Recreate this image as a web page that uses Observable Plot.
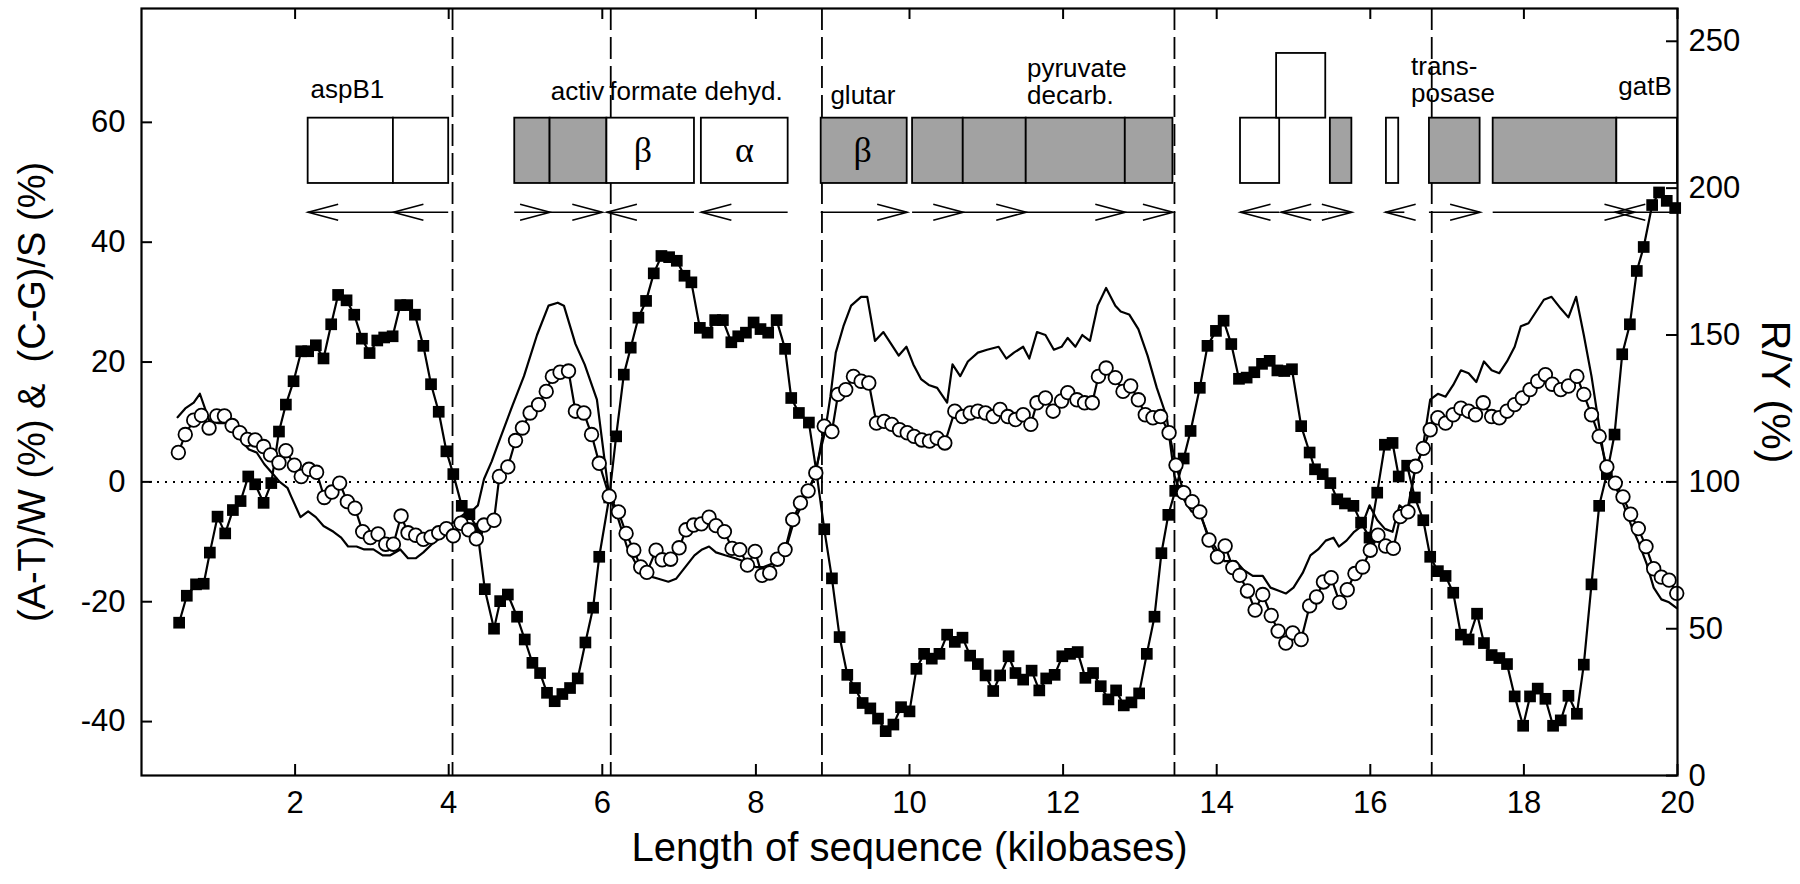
<!DOCTYPE html>
<html>
<head>
<meta charset="utf-8">
<script src="https://cdn.jsdelivr.net/npm/d3@7"></script>
<script src="https://cdn.jsdelivr.net/npm/@observablehq/plot@0.6"></script>
<style>
  html, body { margin: 0; padding: 0; background: #ffffff; }
  #chart svg { display: block; }
</style>
</head>
<body>
<div id="chart"></div>
<script>
// ---------------- DATA ----------------
// x in kilobases, y in % (left axis) for the two skew series
const atSkew = [ // filled squares
  [0.49,-23.5],[0.59,-19.0],[0.71,-17.1],[0.81,-17.0],[0.89,-11.8],[0.99,-5.8],[1.09,-8.6],[1.19,-4.7],[1.29,-3.2],[1.39,0.9],
  [1.48,-0.4],[1.59,-3.5],[1.69,-0.2],[1.79,8.4],[1.88,12.9],[1.98,16.8],[2.08,21.8],[2.17,21.8],[2.27,22.8],[2.37,20.6],
  [2.47,26.3],[2.56,31.2],[2.67,30.3],[2.77,27.9],[2.87,23.9],[2.97,21.5],[3.07,23.6],[3.16,24.1],[3.27,24.3],[3.37,29.5],
  [3.46,29.5],[3.56,27.9],[3.67,22.7],[3.77,16.3],[3.87,11.7],[3.97,5.1],[4.06,1.3],[4.17,-4.0],[4.27,-5.4],[4.37,-7.8],
  [4.47,-17.9],[4.59,-24.5],[4.67,-19.9],[4.77,-18.8],[4.89,-22.5],[4.99,-26.3],[5.09,-30.2],[5.19,-31.9],[5.28,-35.2],[5.38,-36.6],
  [5.48,-35.4],[5.58,-34.4],[5.68,-32.8],[5.78,-26.8],[5.88,-21.0],[5.96,-12.5],[6.09,-2.6],[6.18,7.6],[6.28,17.9],[6.37,22.4],
  [6.47,27.4],[6.57,30.2],[6.67,34.8],[6.77,37.7],[6.87,37.5],[6.97,36.9],[7.07,34.4],[7.16,33.3],[7.27,25.7],[7.37,24.9],
  [7.47,27.0],[7.57,27.0],[7.68,23.3],[7.77,24.3],[7.87,24.9],[7.97,26.6],[8.06,25.5],[8.16,24.9],[8.27,27.0],[8.38,22.2],
  [8.46,14.0],[8.56,11.5],[8.69,9.9],[8.79,1.5],[8.89,-7.9],[8.99,-16.1],[9.09,-25.9],[9.19,-32.2],[9.29,-34.4],[9.39,-36.9],
  [9.49,-37.8],[9.59,-39.5],[9.69,-41.6],[9.79,-40.5],[9.89,-37.6],[10.00,-38.3],[10.09,-31.2],[10.19,-28.7],[10.29,-29.5],[10.39,-28.7],
  [10.49,-25.5],[10.59,-26.7],[10.69,-26.0],[10.79,-29.0],[10.89,-30.4],[10.99,-32.3],[11.09,-34.9],[11.18,-32.3],[11.29,-29.1],[11.38,-31.9],
  [11.48,-33.0],[11.59,-31.5],[11.69,-34.8],[11.78,-32.8],[11.89,-32.2],[11.99,-29.1],[12.09,-28.7],[12.19,-28.4],[12.29,-32.7],[12.39,-31.9],
  [12.49,-34.1],[12.59,-36.3],[12.69,-34.8],[12.79,-37.3],[12.89,-36.8],[12.99,-35.3],[13.09,-28.7],[13.19,-22.5],[13.28,-11.9],[13.37,-5.5],
  [13.46,-1.5],[13.57,3.9],[13.66,8.5],[13.78,15.7],[13.88,22.7],[13.99,25.2],[14.09,26.9],[14.19,23.0],[14.29,17.2],[14.39,17.4],
  [14.49,18.3],[14.59,19.7],[14.69,20.2],[14.79,18.6],[14.88,18.5],[14.98,18.8],[15.10,9.3],[15.21,4.9],[15.28,2.1],[15.38,1.3],
  [15.48,-0.2],[15.57,-2.9],[15.67,-3.6],[15.78,-4.0],[15.88,-6.8],[15.99,-9.3],[16.09,-1.8],[16.19,6.2],[16.29,6.5],[16.37,0.9],
  [16.48,2.7],[16.58,-2.6],[16.69,-6.4],[16.78,-12.5],[16.88,-14.9],[16.98,-15.7],[17.08,-18.5],[17.18,-25.5],[17.28,-26.3],[17.39,-22.0],
  [17.48,-26.9],[17.58,-28.9],[17.68,-29.4],[17.78,-30.4],[17.88,-35.8],[17.99,-40.7],[18.08,-35.8],[18.18,-34.5],[18.28,-36.2],[18.38,-40.7],
  [18.48,-39.8],[18.58,-35.7],[18.69,-38.7],[18.78,-30.5],[18.88,-17.1],[18.98,-4.0],[19.08,1.3],[19.18,7.9],[19.28,21.3],[19.38,26.3],
  [19.47,35.2],[19.56,39.2],[19.67,46.2],[19.76,48.3],[19.86,46.9],[19.97,45.7]
];
const cgSkew = [ // open circles
  [0.48,4.9],[0.57,7.9],[0.68,10.3],[0.78,11.1],[0.88,9.0],[0.98,11.0],[1.08,11.0],[1.18,9.4],[1.28,8.2],[1.38,7.1],
  [1.48,7.0],[1.59,5.9],[1.68,4.5],[1.79,3.2],[1.88,5.2],[1.99,2.8],[2.08,0.9],[2.18,2.1],[2.28,1.6],[2.38,-2.6],
  [2.48,-1.7],[2.58,-0.2],[2.68,-3.3],[2.78,-4.4],[2.88,-8.3],[2.98,-9.3],[3.08,-8.7],[3.18,-10.4],[3.28,-10.4],[3.38,-5.7],
  [3.47,-8.5],[3.57,-8.9],[3.67,-9.6],[3.77,-9.2],[3.87,-8.5],[3.97,-7.8],[4.06,-9.0],[4.16,-6.9],[4.26,-8.0],[4.36,-9.5],
  [4.46,-7.2],[4.59,-6.4],[4.66,0.9],[4.77,2.5],[4.87,6.9],[4.96,9.0],[5.06,11.5],[5.17,12.9],[5.27,15.1],[5.35,17.6],
  [5.45,18.3],[5.56,18.5],[5.65,11.8],[5.76,11.5],[5.86,7.9],[5.96,3.1],[6.09,-2.4],[6.21,-5.0],[6.31,-8.6],[6.41,-11.4],
  [6.50,-14.2],[6.58,-15.1],[6.70,-11.4],[6.78,-13.0],[6.89,-12.9],[7.00,-11.0],[7.09,-8.0],[7.19,-7.2],[7.29,-7.0],[7.39,-5.9],
  [7.48,-7.3],[7.59,-8.3],[7.69,-11.1],[7.79,-11.3],[7.89,-13.9],[7.99,-11.6],[8.08,-15.6],[8.18,-15.2],[8.28,-12.9],[8.38,-11.3],
  [8.48,-6.3],[8.58,-3.5],[8.68,-1.5],[8.78,1.5],[8.89,9.3],[8.99,8.4],[9.07,14.6],[9.17,15.4],[9.27,17.6],[9.37,16.8],
  [9.47,16.5],[9.57,9.8],[9.67,10.1],[9.77,9.6],[9.87,8.7],[9.97,8.2],[10.06,7.6],[10.16,7.0],[10.26,6.8],[10.36,7.3],
  [10.46,6.5],[10.59,11.8],[10.69,10.9],[10.79,11.5],[10.89,11.8],[10.99,11.5],[11.09,10.9],[11.18,12.1],[11.28,10.9],[11.38,10.4],
  [11.48,11.2],[11.58,9.6],[11.66,13.2],[11.77,14.0],[11.87,11.8],[11.98,13.5],[12.06,14.9],[12.18,13.7],[12.28,13.2],[12.38,13.2],
  [12.46,17.6],[12.56,19.0],[12.68,17.4],[12.78,15.1],[12.88,16.0],[12.98,13.7],[13.07,11.2],[13.17,10.7],[13.27,10.9],[13.38,8.2],
  [13.47,2.8],[13.57,-1.8],[13.68,-3.3],[13.78,-5.0],[13.90,-9.7],[14.01,-12.5],[14.11,-10.7],[14.21,-14.3],[14.30,-15.6],[14.40,-18.2],
  [14.50,-21.4],[14.60,-18.8],[14.71,-22.3],[14.80,-24.9],[14.90,-26.9],[14.99,-25.2],[15.10,-26.3],[15.21,-20.7],[15.30,-19.2],[15.39,-16.7],
  [15.49,-16.0],[15.60,-20.1],[15.70,-18.0],[15.80,-15.3],[15.90,-14.2],[16.00,-11.4],[16.10,-8.9],[16.20,-10.7],[16.30,-11.1],[16.39,-5.8],
  [16.49,-5.0],[16.59,2.6],[16.69,5.6],[16.78,8.7],[16.88,10.7],[16.98,9.8],[17.08,11.2],[17.18,12.3],[17.28,11.8],[17.37,11.2],
  [17.47,13.2],[17.58,10.9],[17.68,10.7],[17.78,11.8],[17.88,12.9],[17.98,14.0],[18.08,15.4],[18.18,16.8],[18.28,17.9],[18.37,16.3],
  [18.48,15.4],[18.58,16.0],[18.69,17.6],[18.78,14.6],[18.88,11.2],[18.98,7.6],[19.08,2.5],[19.19,-0.2],[19.29,-2.5],[19.39,-5.4],
  [19.49,-7.8],[19.59,-10.8],[19.69,-14.5],[19.79,-15.9],[19.89,-16.4],[19.99,-18.6]
];
// R/Y (%) on the right axis, plain line
const ryRatio = [
  [0.47,122],[0.57,125],[0.68,127],[0.76,130],[0.88,121],[1.00,120],[1.10,120],[1.20,117],[1.30,114],[1.40,111],
  [1.50,110],[1.60,106],[1.70,103],[1.80,100],[1.90,98],[1.95,95],[2.07,88],[2.17,90],[2.27,88],[2.37,85],
  [2.50,83],[2.60,81],[2.69,78],[2.80,78],[2.90,77],[3.02,77],[3.14,75],[3.24,75],[3.37,77],[3.47,74],
  [3.57,74],[3.67,76],[3.79,79],[3.90,81],[4.00,85],[4.10,87],[4.20,89],[4.30,90],[4.38,92],[4.46,101],
  [4.56,107],[4.63,112],[4.83,126],[4.98,136],[5.15,150],[5.30,160],[5.42,161],[5.50,160],[5.65,147],[5.77,140],
  [5.93,128],[6.09,95],[6.20,88],[6.32,78],[6.48,70],[6.60,68],[6.73,67],[6.86,66],[6.96,67],[7.08,71],
  [7.20,75],[7.30,77],[7.39,78],[7.48,76],[7.60,75],[7.73,74],[7.84,73],[7.90,72],[8.00,71],[8.10,71],
  [8.20,72],[8.30,74],[8.40,78],[8.50,87],[8.62,93],[8.75,101],[8.90,117],[8.97,129],[9.04,144],[9.14,153],
  [9.24,160],[9.37,163],[9.45,163],[9.55,148],[9.66,151],[9.76,147],[9.86,143],[9.96,146],[10.05,140],[10.15,135],
  [10.25,133],[10.36,132],[10.49,127],[10.56,140],[10.66,136],[10.76,141],[10.89,144],[11.01,145],[11.16,146],[11.26,142],
  [11.36,144],[11.48,146],[11.56,142],[11.66,151],[11.77,150],[11.88,145],[11.98,146],[12.06,149],[12.16,146],[12.25,150],
  [12.35,148],[12.45,160],[12.56,166],[12.68,160],[12.75,158],[12.86,157],[12.98,152],[13.10,143],[13.22,132],[13.35,122],
  [13.45,102],[13.55,95],[13.67,90],[13.80,88],[13.90,81],[14.00,77],[14.10,73],[14.25,73],[14.35,70],[14.47,68],
  [14.60,68],[14.70,64],[14.80,63],[14.90,62],[15.00,64],[15.12,69],[15.22,75],[15.32,77],[15.42,80],[15.52,81],
  [15.59,78],[15.69,80],[15.79,83],[15.89,85],[15.99,92],[16.09,87],[16.19,84],[16.29,83],[16.38,92],[16.48,90],
  [16.58,104],[16.68,111],[16.78,128],[16.88,130],[16.98,129],[17.08,133],[17.18,138],[17.28,137],[17.38,134],[17.48,141],
  [17.58,138],[17.68,137],[17.78,141],[17.88,146],[17.96,153],[18.06,154],[18.16,158],[18.26,162],[18.36,163],[18.48,159],
  [18.58,156],[18.68,163],[18.78,150],[18.88,136],[18.98,119],[19.07,104],[19.20,98],[19.30,92],[19.40,85],[19.50,79],
  [19.60,72],[19.69,64],[19.79,60],[19.89,59],[19.99,57]
];

// dashed region boundaries (kb)
const boundaries = [4.05, 6.11, 8.86, 13.45, 16.80];

// gene boxes (kb)
const boxStart = [2.17, 3.28, 4.86, 5.32, 6.06, 7.29, 8.85, 10.04, 10.70, 11.52, 12.81, 14.31, 14.78, 15.48, 16.21, 16.77, 17.60, 19.21];
const boxEnd   = [3.28, 4.00, 5.32, 6.06, 7.20, 8.42, 9.97, 10.70, 11.52, 12.81, 13.43, 14.82, 15.42, 15.76, 16.37, 17.43, 19.21, 20.00];
const boxShade = ["open","open","shaded","shaded","open","open","shaded","shaded","shaded","shaded","shaded","open","open","shaded","open","shaded","shaded","open"];
const boxTier  = [0,0,0,0,0,0,0,0,0,0,0,0,1,0,0,0,0,0];

// gene direction arrows: from -> arrowhead tip (kb)
const geneFrom = [4.00, 3.28, 4.86, 5.32, 7.20, 8.42, 8.85, 10.04, 10.70, 11.52, 12.81, 14.82, 15.45, 15.45, 16.45, 16.77, 17.60, 20.00];
const geneTip  = [3.28, 2.17, 5.32, 6.00, 6.06, 7.29, 9.97, 10.70, 11.52, 12.81, 13.43, 14.31, 14.84, 15.76, 16.20, 17.43, 19.44, 19.19];

// gene names
const geneLabels = ["aspB1", "activ", "formate dehyd.", "glutar", "pyruvate\ndecarb.", "trans-\nposase", "gatB"];
const geneLabelX = [2.20, 5.33, 6.09, 8.97, 11.53, 16.53, 19.23];
const geneLabelY = [64.0, 63.7, 63.7, 63.0, 63.0, 63.4, 64.5];
const subunitLabels = ["β", "α", "β"];
const subunitX = [6.53, 7.85, 9.39];

// axes
const xTicks = [2, 4, 6, 8, 10, 12, 14, 16, 18, 20];
const leftTicks = [-40, -20, 0, 20, 40, 60];
const ryTicks = [0, 50, 100, 150, 200, 250];
const xTitle = "Length of sequence (kilobases)";
const yTitle = "(A-T)/W (%) &\u00a0 (C-G)/S (%)";
const ryTitle = "R/Y (%)";

// ---------------- LAYOUT ----------------
const W = 1800, H = 884;
const mL = 141, mR = 123, mT = 8, mB = 109;
const plotW = W - mL - mR, plotH = H - mT - mB;
const RY_PER_UNIT = 2.04;              // right axis: 100 % R/Y sits on left-axis 0
const toLeft = ry => (ry - 100) / RY_PER_UNIT;
const ROW = [[49.8, 60.7], [60.7, 71.5]];
const ARROW_ROW = 45;
const GRAY = "#a2a2a2";
const FONT = "'Liberation Sans', Arial, Helvetica, sans-serif";

const chevronRight = { draw(ctx) { ctx.moveTo(-30, -8); ctx.lineTo(0, 0); ctx.lineTo(-30, 8); } };
const chevronLeft  = { draw(ctx) { ctx.moveTo(30, -8); ctx.lineTo(0, 0); ctx.lineTo(30, 8); } };

const boxIdx = boxStart.map((_, i) => i);
const geneIdx = geneFrom.map((_, i) => i);
const labelIdx = geneLabels.map((_, i) => i);
const subIdx = subunitLabels.map((_, i) => i);

const chart = Plot.plot({
  width: W, height: H,
  marginLeft: mL, marginRight: mR, marginTop: mT, marginBottom: mB,
  style: { fontFamily: FONT, color: "black", background: "white", overflow: "visible" },
  x: { domain: [0, 20] },
  y: { domain: [-49, 79] },
  marks: [
    // reference lines
    Plot.ruleY([0], { stroke: "black", strokeWidth: 2, strokeDasharray: "2,6" }),
    Plot.ruleX(boundaries, { stroke: "black", strokeWidth: 1.8, strokeDasharray: "22,7" }),

    // gene boxes
    Plot.rect(boxIdx.filter(i => boxShade[i] === "shaded"), {
      x1: i => boxStart[i], x2: i => boxEnd[i],
      y1: i => ROW[boxTier[i]][0], y2: i => ROW[boxTier[i]][1],
      fill: GRAY, stroke: "black", strokeWidth: 1.8
    }),
    Plot.rect(boxIdx.filter(i => boxShade[i] === "open"), {
      x1: i => boxStart[i], x2: i => boxEnd[i],
      y1: i => ROW[boxTier[i]][0], y2: i => ROW[boxTier[i]][1],
      fill: "white", stroke: "black", strokeWidth: 1.8
    }),

    // gene direction arrows
    Plot.ruleY(geneIdx, { y: () => ARROW_ROW, x1: i => geneFrom[i], x2: i => geneTip[i], stroke: "black", strokeWidth: 1.6 }),
    Plot.dot(geneIdx.filter(i => geneTip[i] > geneFrom[i]), {
      x: i => geneTip[i], y: () => ARROW_ROW, symbol: chevronRight, fill: "none", stroke: "black", strokeWidth: 1.6
    }),
    Plot.dot(geneIdx.filter(i => geneTip[i] < geneFrom[i]), {
      x: i => geneTip[i], y: () => ARROW_ROW, symbol: chevronLeft, fill: "none", stroke: "black", strokeWidth: 1.6
    }),

    // gene labels
    Plot.text(labelIdx, {
      x: i => geneLabelX[i], y: i => geneLabelY[i], text: i => geneLabels[i],
      textAnchor: "start", lineAnchor: "bottom", lineHeight: 1.05, fontSize: 26, fill: "black"
    }),
    Plot.text(subIdx, {
      x: i => subunitX[i], y: () => (ROW[0][0] + ROW[0][1]) / 2, text: i => subunitLabels[i],
      fontFamily: "'Liberation Serif', 'Times New Roman', serif", fontSize: 36, lineAnchor: "middle", fill: "black"
    }),

    // R/Y line (right axis)
    Plot.line(ryRatio, { x: d => d[0], y: d => toLeft(d[1]), stroke: "black", strokeWidth: 2.2 }),
    // (A-T)/W squares
    Plot.line(atSkew, { x: d => d[0], y: d => d[1], stroke: "black", strokeWidth: 2.2 }),
    Plot.dot(atSkew, { x: d => d[0], y: d => d[1], symbol: "square", r: 6.6, fill: "black", stroke: "none" }),
    // (C-G)/S circles
    Plot.line(cgSkew, { x: d => d[0], y: d => d[1], stroke: "black", strokeWidth: 2.2 }),
    Plot.dot(cgSkew, { x: d => d[0], y: d => d[1], r: 6.8, fill: "white", stroke: "black", strokeWidth: 1.8 }),

    // frame and inward ticks
    Plot.frame({ stroke: "black", strokeWidth: 2.2 }),
    Plot.tickX(xTicks, { x: d => d, insetTop: plotH - 11, stroke: "black", strokeWidth: 2 }),
    Plot.tickX(xTicks, { x: d => d, insetBottom: plotH - 11, stroke: "black", strokeWidth: 2 }),
    Plot.tickY(leftTicks, { y: d => d, insetRight: plotW - 11, stroke: "black", strokeWidth: 2 }),
    Plot.tickY(ryTicks, { y: d => toLeft(d), insetLeft: plotW - 11, stroke: "black", strokeWidth: 2 }),

    // axis labels
    Plot.axisX({ ticks: xTicks, tickFormat: d => String(d), tickSize: 0, tickPadding: 15, fontSize: 31, label: null }),
    Plot.axisY({ ticks: leftTicks, tickFormat: d => String(d), tickSize: 0, tickPadding: 16, fontSize: 31, label: null }),
    Plot.axisY({ anchor: "right", ticks: ryTicks.map(toLeft), tickFormat: d => String(Math.round(100 + d * RY_PER_UNIT)),
                 tickSize: 0, tickPadding: 11, fontSize: 31, label: null }),

    // titles
    Plot.text([xTitle], { text: d => d, frameAnchor: "bottom", dy: 73, fontSize: 40, textAnchor: "middle", lineAnchor: "middle", fill: "black" }),
    Plot.text([yTitle], { text: d => d, frameAnchor: "left", dx: -109, rotate: -90, fontSize: 38, textAnchor: "middle", lineAnchor: "middle", fill: "black" }),
    Plot.text([ryTitle], { text: d => d, frameAnchor: "right", dx: 98, rotate: 90, fontSize: 41, textAnchor: "middle", lineAnchor: "middle", fill: "black" })
  ]
});
document.getElementById("chart").appendChild(chart);
</script>
</body>
</html>
